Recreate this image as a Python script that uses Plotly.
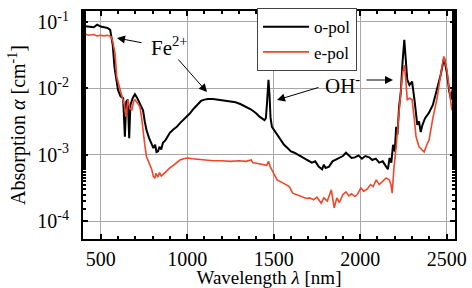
import plotly.graph_objects as go

# Wavelength (nm) and log10 absorption
o_pol_wl = [400, 430, 460, 480, 500, 520, 540, 555, 570, 580, 590, 600, 615, 630, 640, 648, 657, 665, 672, 685,
            698, 712, 730, 745, 755, 765, 780, 795, 805, 815, 823, 832, 840, 850, 860, 875, 890, 900, 920, 940,
            960, 980, 1000, 1015, 1040, 1060, 1080, 1100, 1120, 1150, 1180, 1210, 1245, 1280, 1310, 1340, 1370,
            1400, 1420, 1447, 1455, 1462, 1470, 1476, 1482, 1490, 1500, 1520, 1540, 1560, 1580, 1600, 1620, 1640,
            1660, 1680, 1700, 1720, 1740, 1760, 1780, 1790, 1800, 1820, 1840, 1860, 1880, 1900, 1918, 1935, 1950,
            1970, 1990, 2010, 2030, 2052, 2070, 2090, 2110, 2130, 2150, 2160, 2170, 2180, 2190, 2200, 2208, 2215,
            2225, 2235, 2245, 2255, 2263, 2272, 2285, 2300, 2315, 2330, 2340, 2350, 2360, 2375, 2397, 2420, 2443,
            2465, 2485, 2500, 2515, 2525, 2535, 2548]
o_pol_log10 = [-1.06, -1.07, -1.08, -1.04, -1.07, -1.08, -1.09, -1.12, -1.35, -1.68, -1.85, -2.02, -2.12, -2.15,
               -2.73, -2.20, -2.17, -2.75, -2.25, -2.15, -2.09, -2.15, -2.25, -2.33, -2.50, -2.63, -2.75, -2.86,
               -2.90, -2.85, -2.96, -2.95, -2.88, -2.92, -2.82, -2.78, -2.70, -2.67, -2.62, -2.58, -2.52, -2.47,
               -2.42, -2.38, -2.30, -2.24, -2.19, -2.17, -2.16, -2.16, -2.17, -2.18, -2.19, -2.21, -2.24, -2.28,
               -2.32, -2.38, -2.43, -2.48, -2.45, -2.20, -1.87, -2.10, -2.45, -2.58, -2.62, -2.70, -2.78, -2.85,
               -2.90, -2.95, -2.97, -3.00, -3.02, -3.05, -3.08, -3.12, -3.10, -3.18, -3.22, -3.15, -3.20, -3.18,
               -3.10, -3.07, -3.05, -3.02, -2.97, -3.02, -3.05, -3.04, -3.01, -3.06, -3.02, -3.04, -3.08, -3.06,
               -3.12, -3.10, -3.18, -3.22, -3.05, -3.12, -2.85, -2.95, -2.58, -2.70, -2.28, -2.05, -1.60, -1.27,
               -1.55, -1.87, -1.95, -1.90, -2.20, -2.55, -2.50, -2.66, -2.55, -2.45, -2.37, -2.25, -2.02, -1.80,
               -1.54, -1.75, -2.05, -2.17, -2.00, -2.13]

e_pol_wl = [400, 430, 460, 480, 500, 520, 540, 560, 570, 583, 593, 603, 611, 620, 627, 637, 646, 652, 658, 668,
            680, 690, 698, 712, 727, 737, 745, 755, 765, 780, 795, 805, 813, 820, 830, 840, 850, 860, 875, 890,
            900, 920, 940, 958, 980, 1003, 1030, 1060, 1100, 1150, 1200, 1250, 1300, 1340, 1370, 1380, 1400, 1418,
            1440, 1460, 1470, 1480, 1500, 1520, 1550, 1570, 1590, 1610, 1630, 1650, 1670, 1690, 1707, 1730, 1750,
            1775, 1790, 1810, 1833, 1850, 1865, 1880, 1900, 1918, 1935, 1950, 1970, 1983, 2004, 2020, 2040, 2060,
            2075, 2093, 2110, 2130, 2150, 2168, 2178, 2185, 2195, 2208, 2220, 2237, 2247, 2255, 2263, 2272, 2285,
            2300, 2312, 2323, 2340, 2355, 2370, 2385, 2398, 2420, 2443, 2465, 2483, 2500, 2515, 2530, 2540, 2548]
e_pol_log10 = [-1.17, -1.20, -1.19, -1.21, -1.20, -1.21, -1.20, -1.22, -1.30, -1.47, -1.83, -1.92, -2.00, -2.08,
               -2.17, -2.25, -2.43, -2.25, -2.17, -2.30, -2.33, -2.20, -2.17, -2.22, -2.28, -2.45, -2.67, -2.85,
               -3.03, -3.12, -3.22, -3.33, -3.35, -3.28, -3.34, -3.27, -3.32, -3.30, -3.26, -3.22, -3.20, -3.16,
               -3.11, -3.08, -3.06, -3.05, -3.06, -3.07, -3.08, -3.09, -3.09, -3.10, -3.09, -3.10, -3.08, -3.12,
               -3.13, -3.14, -3.15, -3.16, -3.10, -3.18, -3.28, -3.38, -3.42, -3.45, -3.48, -3.58, -3.60, -3.62,
               -3.63, -3.66, -3.65, -3.68, -3.64, -3.73, -3.65, -3.70, -3.53, -3.80, -3.65, -3.72, -3.60, -3.56,
               -3.62, -3.59, -3.63, -3.60, -3.50, -3.55, -3.52, -3.45, -3.48, -3.38, -3.45, -3.40, -3.35, -3.38,
               -3.45, -3.58, -3.20, -2.88, -2.45, -1.98, -1.75, -1.65, -1.85, -2.17, -2.15, -2.17, -2.45, -2.73,
               -2.88, -2.92, -2.96, -2.85, -2.78, -2.45, -2.17, -1.80, -1.52, -1.70, -2.00, -2.33, -2.20, -2.13]

o_pol = [10 ** v for v in o_pol_log10]
e_pol = [10 ** v for v in e_pol_log10]

x_tick_vals = [500, 1000, 1500, 2000, 2500]
y_tick_vals = [1e-4, 1e-3, 1e-2, 1e-1]
y_tick_text = ["10<sup>-4</sup>", "10<sup>-3</sup>", "10<sup>-2</sup>", "10<sup>-1</sup>"]

FONT = "Liberation Serif"

fig = go.Figure()
fig.add_trace(go.Scatter(x=o_pol_wl, y=o_pol, mode="lines", name="o-pol",
                         line=dict(color="black", width=2)))
fig.add_trace(go.Scatter(x=e_pol_wl, y=e_pol, mode="lines", name="e-pol",
                         line=dict(color="#F0462A", width=1.6)))

L, R, T, B = 83, 17, 11, 49
W, H = 472, 288
pw, ph = W - L - R, H - T - B


def px(x):
    return (x - L) / pw


def py(y):
    return (H - B - y) / ph


ann = []
ann.append(dict(xref="paper", yref="paper", x=px(169), y=py(46), text="Fe<sup>2+</sup>", showarrow=False,
                xanchor="center", yanchor="middle",
                font=dict(family=FONT, size=21, color="black")))
ann.append(dict(xref="paper", yref="paper", x=px(342), y=py(84), text="OH<sup>-</sup>", showarrow=False,
                xanchor="center", yanchor="middle",
                font=dict(family=FONT, size=21, color="black")))
arrows = [((117, 38), (143, 43)), ((207, 92), (177, 58)), ((277, 100), (320, 87)), ((393, 80), (365, 80))]
for (hx, hy), (tx, ty) in arrows:
    ann.append(dict(xref="paper", yref="paper", x=px(hx), y=py(hy), ax=tx - hx, ay=ty - hy, text="",
                    xanchor="center", yanchor="middle",
                    showarrow=True, arrowhead=2, arrowsize=1.6, arrowwidth=1, arrowcolor="black"))

axis_common = dict(showline=True, linewidth=2, linecolor="black", mirror="ticks", ticks="inside",
                   ticklen=5, tickwidth=1.5, tickcolor="black", showgrid=True, gridcolor="#a8a8a8",
                   gridwidth=1, zeroline=False, automargin=False,
                   tickfont=dict(family=FONT, size=20, color="black"))

fig.update_layout(
    template="none",
    width=W, height=H,
    margin=dict(l=L, r=R, t=T, b=B, autoexpand=False),
    plot_bgcolor="white", paper_bgcolor="white",
    font=dict(family=FONT, color="black"),
    xaxis=dict(range=[398, 2548], tickvals=x_tick_vals,
               minor=dict(ticks="inside", dtick=100, tick0=0, ticklen=3, tickcolor="black", showgrid=False),
               title=dict(text="Wavelength <i>λ</i> [nm]", font=dict(family=FONT, size=19), standoff=12),
               ticklabelstandoff=1,
               **axis_common),
    yaxis=dict(type="log", range=[-4.27, -0.835], tickvals=y_tick_vals, ticktext=y_tick_text,
               minor=dict(ticks="inside", ticklen=3, tickcolor="black", showgrid=False),
               title=dict(text="Absorption <i>α</i> [cm<sup>-1</sup>]", font=dict(family=FONT, size=20), standoff=6),
               ticklabelstandoff=8,
               **axis_common),
    legend=dict(x=px(257), y=1.012, xanchor="left", yanchor="top", bgcolor="white",
                bordercolor="#444444", borderwidth=1, font=dict(family=FONT, size=17),
                tracegroupgap=0, itemwidth=46),
    annotations=ann,
    showlegend=True,
)

fig.write_html("out.html", config={"displayModeBar": False},
               post_script="document.body.style.margin='0';document.body.style.overflow='hidden';")
